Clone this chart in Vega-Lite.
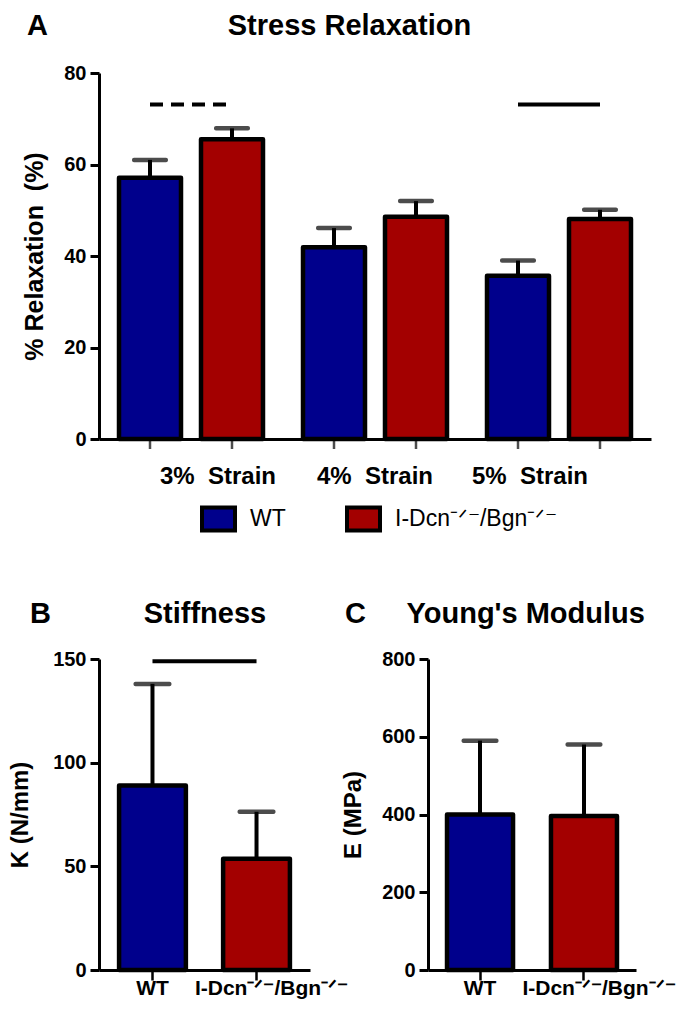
{
  "$schema": "https://vega.github.io/schema/vega-lite/v6.json",
  "padding": {"left": 8, "top": 12, "right": 5, "bottom": 5},
  "background": "white",
  "config": {
    "font": "Liberation Sans",
    "view": {"stroke": null},
    "axis": {"domainColor": "black", "domainWidth": 3, "tickColor": "black", "tickWidth": 3, "tickSize": 9, "labelColor": "black", "labelFont": "Liberation Sans", "labelFontWeight": "bold", "labelFontSize": 20, "labelPadding": 4, "titleColor": "black", "titleFont": "Liberation Sans", "titleFontWeight": "bold", "titleFontSize": 24, "grid": false},
    "title": {"font": "Liberation Sans", "fontSize": 29, "fontWeight": "bold", "color": "black", "anchor": "start", "frame": "group"}
  },
  "datasets": {
    "relax": [
      {"strain": "3%\u00a0 Strain", "genotype": "WT", "value": 57.1, "upper": 61.0},
      {"strain": "3%\u00a0 Strain", "genotype": "I-Dcn\u207b\u141f\u207b/Bgn\u207b\u141f\u207b", "value": 65.5, "upper": 67.9},
      {"strain": "4%\u00a0 Strain", "genotype": "WT", "value": 41.9, "upper": 46.1},
      {"strain": "4%\u00a0 Strain", "genotype": "I-Dcn\u207b\u141f\u207b/Bgn\u207b\u141f\u207b", "value": 48.6, "upper": 52.0},
      {"strain": "5%\u00a0 Strain", "genotype": "WT", "value": 35.7, "upper": 39.0},
      {"strain": "5%\u00a0 Strain", "genotype": "I-Dcn\u207b\u141f\u207b/Bgn\u207b\u141f\u207b", "value": 48.1, "upper": 50.1}
    ],
    "sigA": [
      {"strain": "3%\u00a0 Strain", "genotype": "WT", "value": 73.1},
      {"strain": "3%\u00a0 Strain", "genotype": "I-Dcn\u207b\u141f\u207b/Bgn\u207b\u141f\u207b", "value": 73.1},
      {"strain": "5%\u00a0 Strain", "genotype": "WT", "value": 73.1},
      {"strain": "5%\u00a0 Strain", "genotype": "I-Dcn\u207b\u141f\u207b/Bgn\u207b\u141f\u207b", "value": 73.1}
    ],
    "stiff": [
      {"genotype": "WT", "value": 89.0, "upper": 138.0},
      {"genotype": "I-Dcn\u207b\u141f\u207b/Bgn\u207b\u141f\u207b", "value": 53.7, "upper": 76.3}
    ],
    "sigB": [
      {"genotype": "WT", "value": 148.9},
      {"genotype": "I-Dcn\u207b\u141f\u207b/Bgn\u207b\u141f\u207b", "value": 148.9}
    ],
    "modulus": [
      {"genotype": "WT", "value": 400, "upper": 590},
      {"genotype": "I-Dcn\u207b\u141f\u207b/Bgn\u207b\u141f\u207b", "value": 396, "upper": 580}
    ]
  },
  "resolve": {"scale": {"color": "independent"}},
  "bounds": "flush",
  "spacing": 220,
  "vconcat": [
    {
      "width": 552,
      "height": 366,
      "title": {"text": "A\u2003\u2003\u2003\u2003\u2003\u2003\u2009Stress Relaxation", "dx": -72, "offset": 22},
      "encoding": {
        "x": {"field": "strain", "type": "nominal", "sort": null, "scale": {"paddingInner": 0, "paddingOuter": 0}, "axis": {"title": null, "ticks": false, "labelAngle": 0, "labelFontSize": 24, "labelPadding": 25, "labelOverlap": false, "labelOffset": {"expr": "indexof(datum.value, '3%') == 0 ? 27 : (indexof(datum.value, '5%') == 0 ? -29 : 0)"}}},
        "xOffset": {"field": "genotype", "type": "nominal", "sort": null, "scale": {"paddingInner": 0.244, "paddingOuter": 0.244}},
        "y": {"field": "value", "type": "quantitative", "scale": {"domain": [0, 80], "nice": false}, "axis": {"values": [0, 20, 40, 60, 80], "title": "% Relaxation\u00a0\u00a0(%)", "titleFontSize": 25, "titlePadding": 16}}
      },
      "layer": [
        {
          "data": {"name": "relax"},
          "mark": {"type": "rule", "strokeWidth": 4, "color": "black"},
          "encoding": {"y2": {"field": "upper"}}
        },
        {
          "data": {"name": "relax"},
          "mark": {"type": "tick", "orient": "horizontal", "size": 36, "thickness": 4.5, "color": "black", "cornerRadius": 2},
          "encoding": {"y": {"field": "upper", "type": "quantitative", "title": "% Relaxation\u00a0\u00a0(%)"}}
        },
        {
          "data": {"name": "relax"},
          "mark": {"type": "bar", "stroke": "black", "strokeWidth": 4.5, "strokeJoin": "round"},
          "encoding": {
            "color": {"field": "genotype", "type": "nominal", "sort": null, "scale": {"domain": ["WT", "I-Dcn\u207b\u141f\u207b/Bgn\u207b\u141f\u207b"], "range": ["#00008C", "#A30000"]},
              "legend": {"orient": "none", "legendX": 101, "legendY": 427, "direction": "horizontal", "title": null, "symbolType": "M-1,-0.7L1,-0.7L1,0.7L-1,0.7Z", "symbolSize": 1089, "symbolStrokeColor": "black", "symbolStrokeWidth": 4, "symbolOpacity": 1, "labelFontSize": 23, "labelFont": "Liberation Sans", "labelFontWeight": "normal", "labelColor": "black", "labelOffset": 13, "columnPadding": 53, "labelLimit": 300}}
          }
        },
        {
          "data": {"name": "relax"},
          "mark": {"type": "tick", "orient": "vertical", "size": 10, "thickness": 2.5, "color": "black", "yOffset": 5},
          "encoding": {"y": {"datum": 0, "type": "quantitative", "title": "% Relaxation\u00a0\u00a0(%)"}}
        },
        {
          "data": {"name": "sigA"},
          "transform": [{"filter": "indexof(datum.strain, '3%') == 0"}],
          "mark": {"type": "line", "strokeWidth": 4, "color": "black", "strokeDash": [13, 8], "strokeCap": "butt"},
          "encoding": {"detail": {"field": "strain"}}
        },
        {
          "data": {"name": "sigA"},
          "transform": [{"filter": "indexof(datum.strain, '5%') == 0"}],
          "mark": {"type": "line", "strokeWidth": 4, "color": "black", "strokeCap": "butt"},
          "encoding": {"detail": {"field": "strain"}}
        }
      ]
    },
    {
      "bounds": "flush",
      "spacing": 118,
      "hconcat": [
        {
          "width": 211,
          "height": 311,
          "title": {"text": "B\u2003\u2003\u2003\u2009Stiffness", "dx": -69, "offset": 20},
          "encoding": {
            "x": {"field": "genotype", "type": "nominal", "sort": null, "scale": {"paddingInner": 0.358, "paddingOuter": 0.193}, "axis": {"title": null, "labelAngle": 0, "labelFontSize": 21, "tickSize": 10, "tickWidth": 2.5, "labelPadding": -3, "labelOverlap": false, "labelLimit": 300, "labelOffset": {"expr": "datum.value == 'WT' ? 0 : 15"}}},
            "y": {"field": "value", "type": "quantitative", "scale": {"domain": [0, 150], "nice": false}, "axis": {"values": [0, 50, 100, 150], "title": "K\u00a0(N/mm)", "titlePadding": 20}}
          },
          "layer": [
            {
              "data": {"name": "stiff"},
              "mark": {"type": "rule", "strokeWidth": 4, "color": "black"},
              "encoding": {"y2": {"field": "upper"}}
            },
            {
              "data": {"name": "stiff"},
              "mark": {"type": "tick", "orient": "horizontal", "size": 38, "thickness": 4.5, "color": "black", "cornerRadius": 2},
              "encoding": {"y": {"field": "upper", "type": "quantitative", "title": "K\u00a0(N/mm)"}}
            },
            {
              "data": {"name": "stiff"},
              "mark": {"type": "bar", "stroke": "black", "strokeWidth": 4.5, "strokeJoin": "round"},
              "encoding": {
                "color": {"field": "genotype", "type": "nominal", "sort": null, "scale": {"domain": ["WT", "I-Dcn\u207b\u141f\u207b/Bgn\u207b\u141f\u207b"], "range": ["#00008C", "#A30000"]}, "legend": null}
              }
            },
            {
              "data": {"name": "sigB"},
              "mark": {"type": "line", "strokeWidth": 4, "color": "black", "strokeCap": "butt"},
              "encoding": {}
            }
          ]
        },
        {
          "width": 208,
          "height": 311,
          "title": {"text": "C\u2003\u2009\u2009Young's Modulus", "dx": -83, "offset": 20},
          "encoding": {
            "x": {"field": "genotype", "type": "nominal", "sort": null, "scale": {"paddingInner": 0.365, "paddingOuter": 0.183}, "axis": {"title": null, "labelAngle": 0, "labelFontSize": 21, "tickSize": 10, "tickWidth": 2.5, "labelPadding": -3, "labelOverlap": false, "labelLimit": 300, "labelOffset": {"expr": "datum.value == 'WT' ? 0 : 15"}}},
            "y": {"field": "value", "type": "quantitative", "scale": {"domain": [0, 800], "nice": false}, "axis": {"values": [0, 200, 400, 600, 800], "title": "E\u00a0(MPa)", "titlePadding": 16}}
          },
          "layer": [
            {
              "data": {"name": "modulus"},
              "mark": {"type": "rule", "strokeWidth": 4, "color": "black"},
              "encoding": {"y2": {"field": "upper"}}
            },
            {
              "data": {"name": "modulus"},
              "mark": {"type": "tick", "orient": "horizontal", "size": 37, "thickness": 4.5, "color": "black", "cornerRadius": 2},
              "encoding": {"y": {"field": "upper", "type": "quantitative", "title": "E\u00a0(MPa)"}}
            },
            {
              "data": {"name": "modulus"},
              "mark": {"type": "bar", "stroke": "black", "strokeWidth": 4.5, "strokeJoin": "round"},
              "encoding": {
                "color": {"field": "genotype", "type": "nominal", "sort": null, "scale": {"domain": ["WT", "I-Dcn\u207b\u141f\u207b/Bgn\u207b\u141f\u207b"], "range": ["#00008C", "#A30000"]}, "legend": null}
              }
            }
          ]
        }
      ]
    }
  ]
}
